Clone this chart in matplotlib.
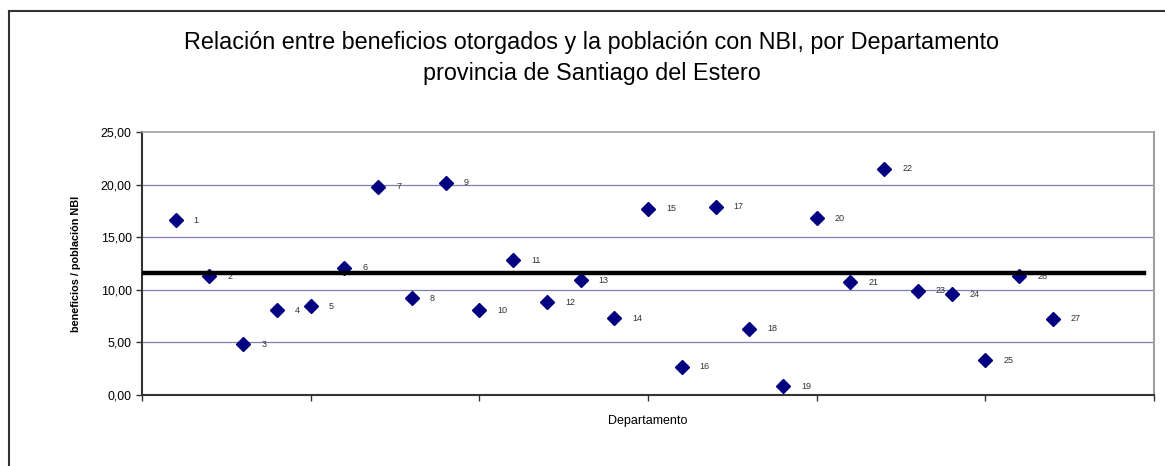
import matplotlib.pyplot as plt
from matplotlib.lines import Line2D
from matplotlib.ticker import FuncFormatter, MultipleLocator

departamentos = list(range(1, 28))
valores = [16.6, 11.3, 4.8, 8.05, 8.45, 12.1, 19.8, 9.2, 20.2, 8.05,
           12.8, 8.8, 10.9, 7.3, 17.7, 2.7, 17.9, 6.3, 0.85, 16.8,
           10.7, 21.5, 9.9, 9.6, 3.3, 11.3, 7.25]
promedio = 11.63
promedio_x = [0, 29.7]

plt.rcParams['font.family'] = ['Liberation Sans', 'DejaVu Sans']

fig = plt.figure(figsize=(11.65, 4.66), dpi=100)
ax = fig.add_axes([0.1219, 0.1524, 0.8687, 0.5643])

# outer chart frame (clipped at right and bottom)
fig.add_artist(Line2D([9 / 1165, 1], [1 - 11 / 466, 1 - 11 / 466], color='#333333', lw=1.5))
fig.add_artist(Line2D([9 / 1165, 9 / 1165], [0, 1 - 11 / 466], color='#333333', lw=1.5))

ax.plot(departamentos, valores, linestyle='none', marker='D', markersize=7,
        color='#000080', zorder=3)
ax.plot(promedio_x, [promedio, promedio], color='black', lw=3.2, zorder=4)

for d, v in zip(departamentos, valores):
    ax.annotate(str(d), (d, v), xytext=(13, 0), textcoords='offset points',
                fontsize=6.5, color='#333333', va='center', ha='left')

ax.set_xlim(0, 30)
ax.set_ylim(0, 25)
ax.xaxis.set_major_locator(MultipleLocator(5))
ax.yaxis.set_major_locator(MultipleLocator(5))
ax.xaxis.set_major_formatter(FuncFormatter(lambda v, p: ''))
ax.yaxis.set_major_formatter(FuncFormatter(lambda v, p: f'{v:.2f}'.replace('.', ',')))
ax.tick_params(axis='y', labelsize=8.9, length=4, width=1, color='#333333', pad=3.5)
ax.tick_params(axis='x', length=4, width=1, color='#333333')

for y in [5, 10, 15, 20]:
    ax.axhline(y, color='#7f7fb5', lw=0.9, zorder=1)

ax.spines['left'].set_color('#333333')
ax.spines['bottom'].set_color('#333333')
ax.spines['left'].set_linewidth(1.5)
ax.spines['bottom'].set_linewidth(1.5)
ax.spines['top'].set_color('#a0a0a0')
ax.spines['right'].set_color('#a0a0a0')
ax.spines['top'].set_linewidth(1.2)
ax.spines['right'].set_linewidth(1.5)

ax.set_xlabel('Departamento', fontsize=9, labelpad=7)
ax.set_ylabel('beneficios / población NBI', fontsize=7.8, fontweight='bold',
              fontstretch='condensed', labelpad=14)

fig.text(0.508, 0.908, 'Relación entre beneficios otorgados y la población con NBI, por Departamento',
         ha='center', va='center', fontsize=16.8)
fig.text(0.508, 0.843, 'provincia de Santiago del Estero', ha='center', va='center', fontsize=16.8)

fig.savefig('out.png', dpi=100)
